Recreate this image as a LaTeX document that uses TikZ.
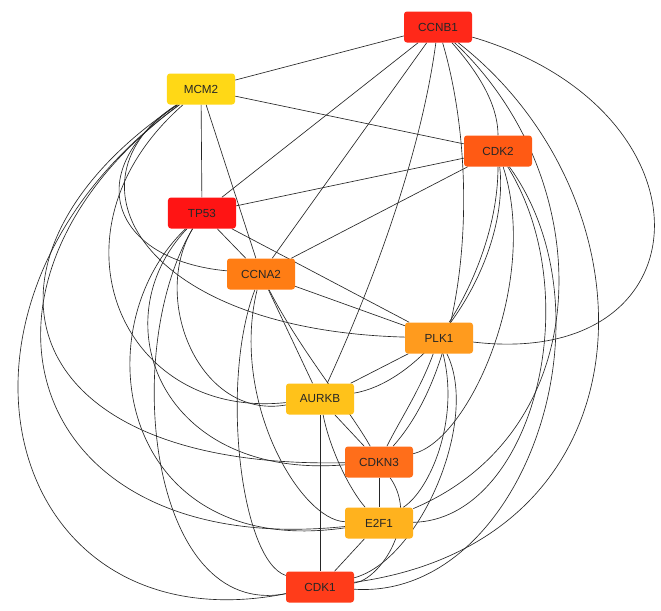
\documentclass[tikz,border=0pt]{standalone}
\usepackage{fontspec}
\setmainfont{Liberation Sans}
\pgfdeclarelayer{bg}
\pgfsetlayers{bg,main}
\definecolor{cA}{RGB}{255,40,25}
\definecolor{cM}{RGB}{255,216,22}
\definecolor{cKtwo}{RGB}{255,90,20}
\definecolor{cT}{RGB}{255,20,20}
\definecolor{cN}{RGB}{255,125,20}
\definecolor{cP}{RGB}{255,155,30}
\definecolor{cU}{RGB}{255,194,26}
\definecolor{cC}{RGB}{255,110,26}
\definecolor{cE}{RGB}{255,178,30}
\definecolor{cKone}{RGB}{255,60,26}
\begin{document}
\begin{tikzpicture}[x=0.03cm,y=-0.03cm,
  gn/.style={draw=none, rounded corners=2.5pt, minimum width=2.04cm, minimum height=0.93cm, inner sep=0pt, font=\fontsize{10}{12}\selectfont, text=black!85},
  ed/.style={draw=black!85, line width=0.55pt}]
\useasboundingbox (0,0) rectangle (661,611);
\node[gn, fill=cA] (A) at (438,27) {CCNB1};
\node[gn, fill=cM] (M) at (201,89) {MCM2};
\node[gn, fill=cKtwo] (K2) at (498,151) {CDK2};
\node[gn, fill=cT] (T) at (202,213) {TP53};
\node[gn, fill=cN] (N) at (261,274) {CCNA2};
\node[gn, fill=cP] (P) at (439,338) {PLK1};
\node[gn, fill=cU] (U) at (320,399) {AURKB};
\node[gn, fill=cC] (C3) at (379,462) {CDKN3};
\node[gn, fill=cE] (E) at (379,523) {E2F1};
\node[gn, fill=cKone] (K1) at (320,587) {CDK1};
\begin{pgfonlayer}{bg}
\fill[white] (0,0) rectangle (661,611);
% straight edges
\draw[ed] (A) -- (M);
\draw[ed] (A) -- (T);
\draw[ed] (A) -- (N);
\draw[ed] (M) -- (K2);
\draw[ed] (M) -- (T);
\draw[ed] (M) -- (N);
\draw[ed] (T) -- (K2);
\draw[ed] (T) -- (N);
\draw[ed] (T) -- (P);
\draw[ed] (K2) -- (N);
\draw[ed] (N) -- (P);
\draw[ed] (P) -- (U);
\draw[ed] (U) -- (C3);
\draw[ed] (U) -- (K1);
\draw[ed] (C3) -- (E);
\draw[ed] (E) -- (K1);
\draw[ed] (N) -- (U);
% CCNB1 curves
\draw[ed] (A) .. controls (485,80) and (498,110) .. (K2);
\draw[ed] (A) .. controls (420,160) and (370,290) .. (U);
\draw[ed] (A) .. controls (480,170) and (470,360) .. (C3);
\draw[ed] (A) .. controls (600,180) and (600,430) .. (E);
\draw[ed] (A) .. controls (660,200) and (660,540) .. (K1);
\draw[ed] (A) .. controls (720,110) and (710,370) .. (P);
% CDK2 curves
\draw[ed] (K2) .. controls (498,230) and (470,290) .. (P);
\draw[ed] (K2) .. controls (510,260) and (430,380) .. (U);
\draw[ed] (K2) .. controls (540,280) and (470,440) .. (C3);
\draw[ed] (K2) .. controls (590,300) and (530,520) .. (E);
\draw[ed] (K2) .. controls (620,320) and (520,600) .. (K1);
% MCM2 curves
\draw[ed] (M) .. controls (60,180) and (140,330) .. (P);
\draw[ed] (M) .. controls (80,170) and (110,260) .. (N);
\draw[ed] (M) .. controls (40,230) and (120,420) .. (U);
\draw[ed] (M) .. controls (-40,250) and (0,470) .. (C3);
\draw[ed] (M) .. controls (-60,280) and (20,560) .. (E);
\draw[ed] (M) .. controls (-90,300) and (0,650) .. (K1);
% TP53 curves
\draw[ed] (T) .. controls (150,300) and (200,420) .. (U);
\draw[ed] (T) .. controls (100,320) and (160,480) .. (C3);
\draw[ed] (T) .. controls (80,330) and (120,560) .. (E);
\draw[ed] (T) .. controls (120,350) and (150,620) .. (K1);
% CCNA2 curves
\draw[ed] (N) .. controls (300,350) and (350,410) .. (C3);
\draw[ed] (N) .. controls (230,400) and (300,520) .. (E);
\draw[ed] (N) .. controls (220,380) and (240,560) .. (K1);
% PLK1 curves
\draw[ed] (P) .. controls (420,390) and (400,420) .. (C3);
\draw[ed] (P) .. controls (460,420) and (430,490) .. (E);
\draw[ed] (P) .. controls (480,420) and (420,560) .. (K1);
% lower curves
\draw[ed] (U) .. controls (330,450) and (350,490) .. (E);
\draw[ed] (C3) .. controls (420,520) and (380,580) .. (K1);
\end{pgfonlayer}
\end{tikzpicture}
\end{document}
